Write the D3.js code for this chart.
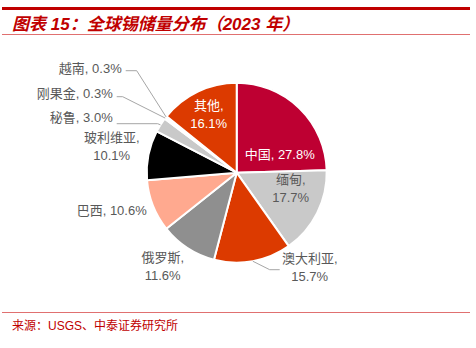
<!DOCTYPE html>
<html><head><meta charset="utf-8">
<script src="https://cdn.jsdelivr.net/npm/d3@7/dist/d3.min.js"></script>
<style>body{margin:0;background:#fff}svg{display:block}</style>
</head><body>
<script>
const categories = ["中国","缅甸","澳大利亚","俄罗斯","巴西","玻利维亚","秘鲁","刚果金","越南","其他"];
const values = [27.8,17.7,15.7,11.6,10.6,10.1,3.0,0.3,0.3,16.1];
const colors = ["#BE0032","#C9C9C9","#DC3A00","#8F8F8F","#FFA98F","#000000","#C9C9C9","#FFA98F","#DC3A00","#DC3A00"];
// label layout: [dx, dy, anchor, twoLines, textColor] relative to pie center
const labelLayout = [
  [43,-18,"middle",false,"#fff"],
  [54,16,"middle",true,"#595959"],
  [73,95,"middle",true,"#595959"],
  [-74,94,"middle",true,"#595959"],
  [-125,38,"middle",false,"#595959"],
  [-125,-26,"middle",true,"#595959"],
  [-124,-55,"end",false,"#595959"],
  [-124,-79,"end",false,"#595959"],
  [-115,-104,"end",false,"#595959"],
  [-28,-58,"middle",true,"#fff"]
];
// leader elbow points relative to center (null = no leader)
const leaderLayout = [null,null,[[33,97],[43,97]],null,null,null,[[-79,-49],[-120,-49]],[[-114,-76],[-120,-76]],[[-100,-102],[-111,-102]],null];

const W=476,H=348;
const svg=d3.select("body").append("svg").attr("width",W).attr("height",H);
const font="Arial, 'Liberation Sans', 'Noto Sans CJK SC', sans-serif";

// header
svg.append("rect").attr("x",2).attr("y",7).attr("width",468).attr("height",3).attr("fill","#C00000");
svg.append("text").attr("x",12).attr("y",30).attr("fill","#C00000")
  .attr("font-family",font).attr("font-size",17).attr("font-weight","bold").attr("font-style","italic")
  .text("图表 15：全球锡储量分布（2023 年）");
svg.append("line").attr("x1",2).attr("x2",470).attr("y1",34.5).attr("y2",34.5).attr("stroke","#E07070").attr("stroke-width",1);
svg.append("line").attr("x1",2).attr("x2",470).attr("y1",312.5).attr("y2",312.5).attr("stroke","#E07070").attr("stroke-width",1);
svg.append("text").attr("x",12).attr("y",330).attr("fill","#C00000")
  .attr("font-family",font).attr("font-size",12)
  .text("来源：USGS、中泰证券研究所");

const cx=236.7, cy=172.7, R=90;
const g=svg.append("g").attr("transform",`translate(${cx},${cy})`);
const data=categories.map((c,i)=>({name:c,value:values[i],color:colors[i],i}));
const pie=d3.pie().value(d=>d.value).sort(null);
const arc=d3.arc().innerRadius(0).outerRadius(R);
const arcs=pie(data);
g.selectAll("path.slice").data(arcs).join("path").attr("class","slice")
  .attr("d",arc).attr("fill",d=>d.data.color).attr("stroke","#fff").attr("stroke-width",2).attr("stroke-linejoin","round");

// leaders
arcs.forEach((a,i)=>{
  const L=leaderLayout[i]; if(!L) return;
  const m=(a.startAngle+a.endAngle)/2;
  const p0=[R*Math.sin(m), -R*Math.cos(m)];
  g.append("path").attr("d",d3.line()([p0,...L])).attr("fill","none").attr("stroke","#A6A6A6").attr("stroke-width",1);
});

// labels
arcs.forEach((a,i)=>{
  const [dx,dy,anchor,two,col]=labelLayout[i];
  const pct=a.data.value.toFixed(1)+"%";
  const t=g.append("text").attr("text-anchor",anchor).attr("fill",col)
    .attr("font-family",font).attr("font-size",13);
  if(two){
    t.append("tspan").attr("x",dx).attr("y",dy-9).attr("dy","0.35em").text(a.data.name+",");
    t.append("tspan").attr("x",dx).attr("y",dy+9).attr("dy","0.35em").text(pct);
  } else {
    t.append("tspan").attr("x",dx).attr("y",dy).attr("dy","0.35em").text(a.data.name+", "+pct);
  }
});
</script>
</body></html>
